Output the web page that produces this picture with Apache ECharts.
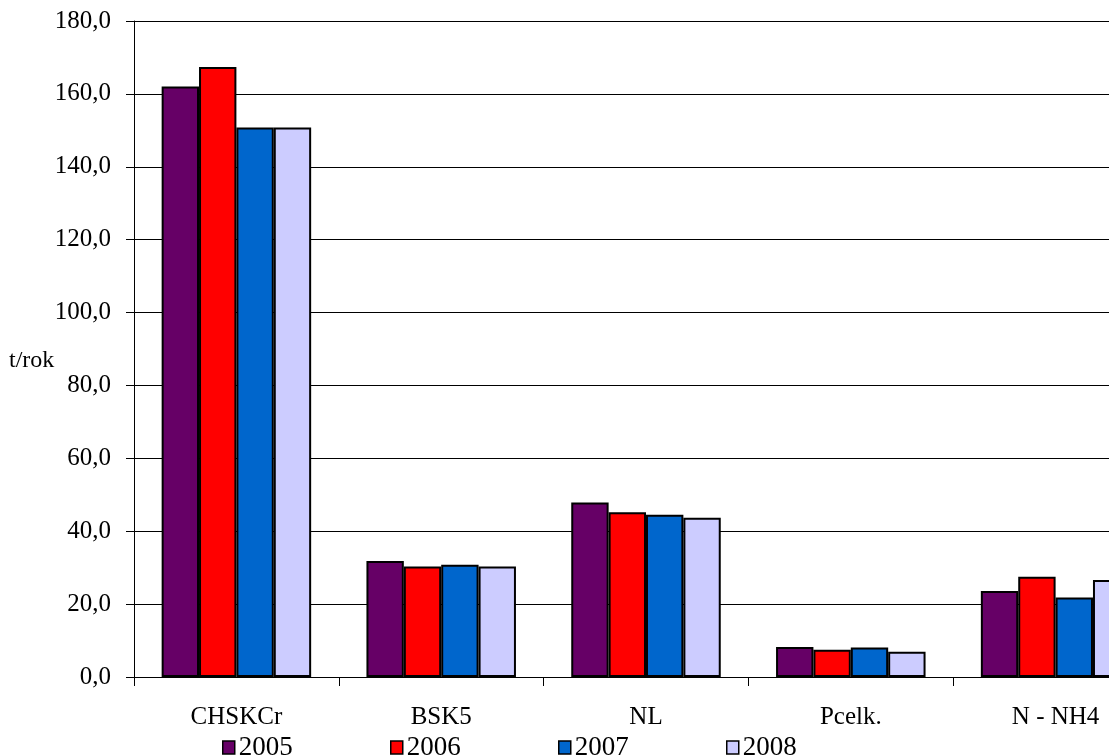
<!DOCTYPE html>
<html><head><meta charset="utf-8">
<script src="https://cdn.jsdelivr.net/npm/echarts@6/dist/echarts.min.js"></script>
<style>html,body{margin:0;padding:0;background:#fff;}#c{width:1109px;height:756px;}</style>
</head><body><div id="c"></div>
<script>
var categories = ['CHSKCr', 'BSK5', 'NL', 'Pcelk.', 'N - NH4'];
var years = ['2005', '2006', '2007', '2008'];
var v2005 = [162.0, 31.8, 47.9, 8.2, 23.6];
var v2006 = [167.4, 30.3, 45.2, 7.5, 27.5];
var v2007 = [150.8, 30.8, 44.5, 8.1, 21.8];
var v2008 = [150.8, 30.3, 43.7, 6.9, 26.6];
var colors = ['#660066', '#FF0000', '#0066CC', '#CCCCFF'];

var chart = echarts.init(document.getElementById('c'));
var font = 'Liberation Serif, Times New Roman, serif';
var seriesData = [v2005, v2006, v2007, v2008];
var legendLefts = [222, 390, 558, 726];
chart.setOption({
  animation: false,
  backgroundColor: '#fff',
  textStyle: {fontFamily: font},
  grid: {left: 134, top: 21, bottom: 79, right: -49, outerBoundsMode: 'none', containLabel: false},
  legend: years.map(function (y, i) {
    return {
      data: [y], top: 734, left: legendLefts[i], itemWidth: 12, itemHeight: 13,
      icon: 'rect', padding: 0,
      itemStyle: {borderColor: '#000', borderWidth: 1.5},
      textStyle: {fontFamily: font, fontSize: 27, color: '#000', padding: [0, 0, 0, -1]}
    };
  }),
  graphic: [{type: 'text', left: 9, top: 349, style: {text: 't/rok', font: '24px ' + font, fill: '#000'}}],
  xAxis: {
    type: 'category', data: categories,
    axisLine: {lineStyle: {color: '#000', width: 1}},
    axisTick: {show: true, length: 9, lineStyle: {color: '#000'}},
    axisLabel: {fontFamily: font, fontSize: 25, color: '#000', margin: 28}
  },
  yAxis: {
    type: 'value', min: 0, max: 180, interval: 20,
    axisLine: {show: true, lineStyle: {color: '#000', width: 1}},
    axisTick: {show: true, length: 8, lineStyle: {color: '#000'}},
    splitLine: {lineStyle: {color: '#000', width: 1}},
    axisLabel: {fontFamily: font, fontSize: 25, color: '#000', margin: 23,
      formatter: function (v) { return v.toFixed(1).replace('.', ','); }}
  },
  series: years.map(function (y, i) {
    return {
      name: y, type: 'bar', data: seriesData[i],
      barGap: '0%', barCategoryGap: '27%',
      itemStyle: {color: colors[i], borderColor: '#000', borderWidth: 2}
    };
  })
});
</script></body></html>
